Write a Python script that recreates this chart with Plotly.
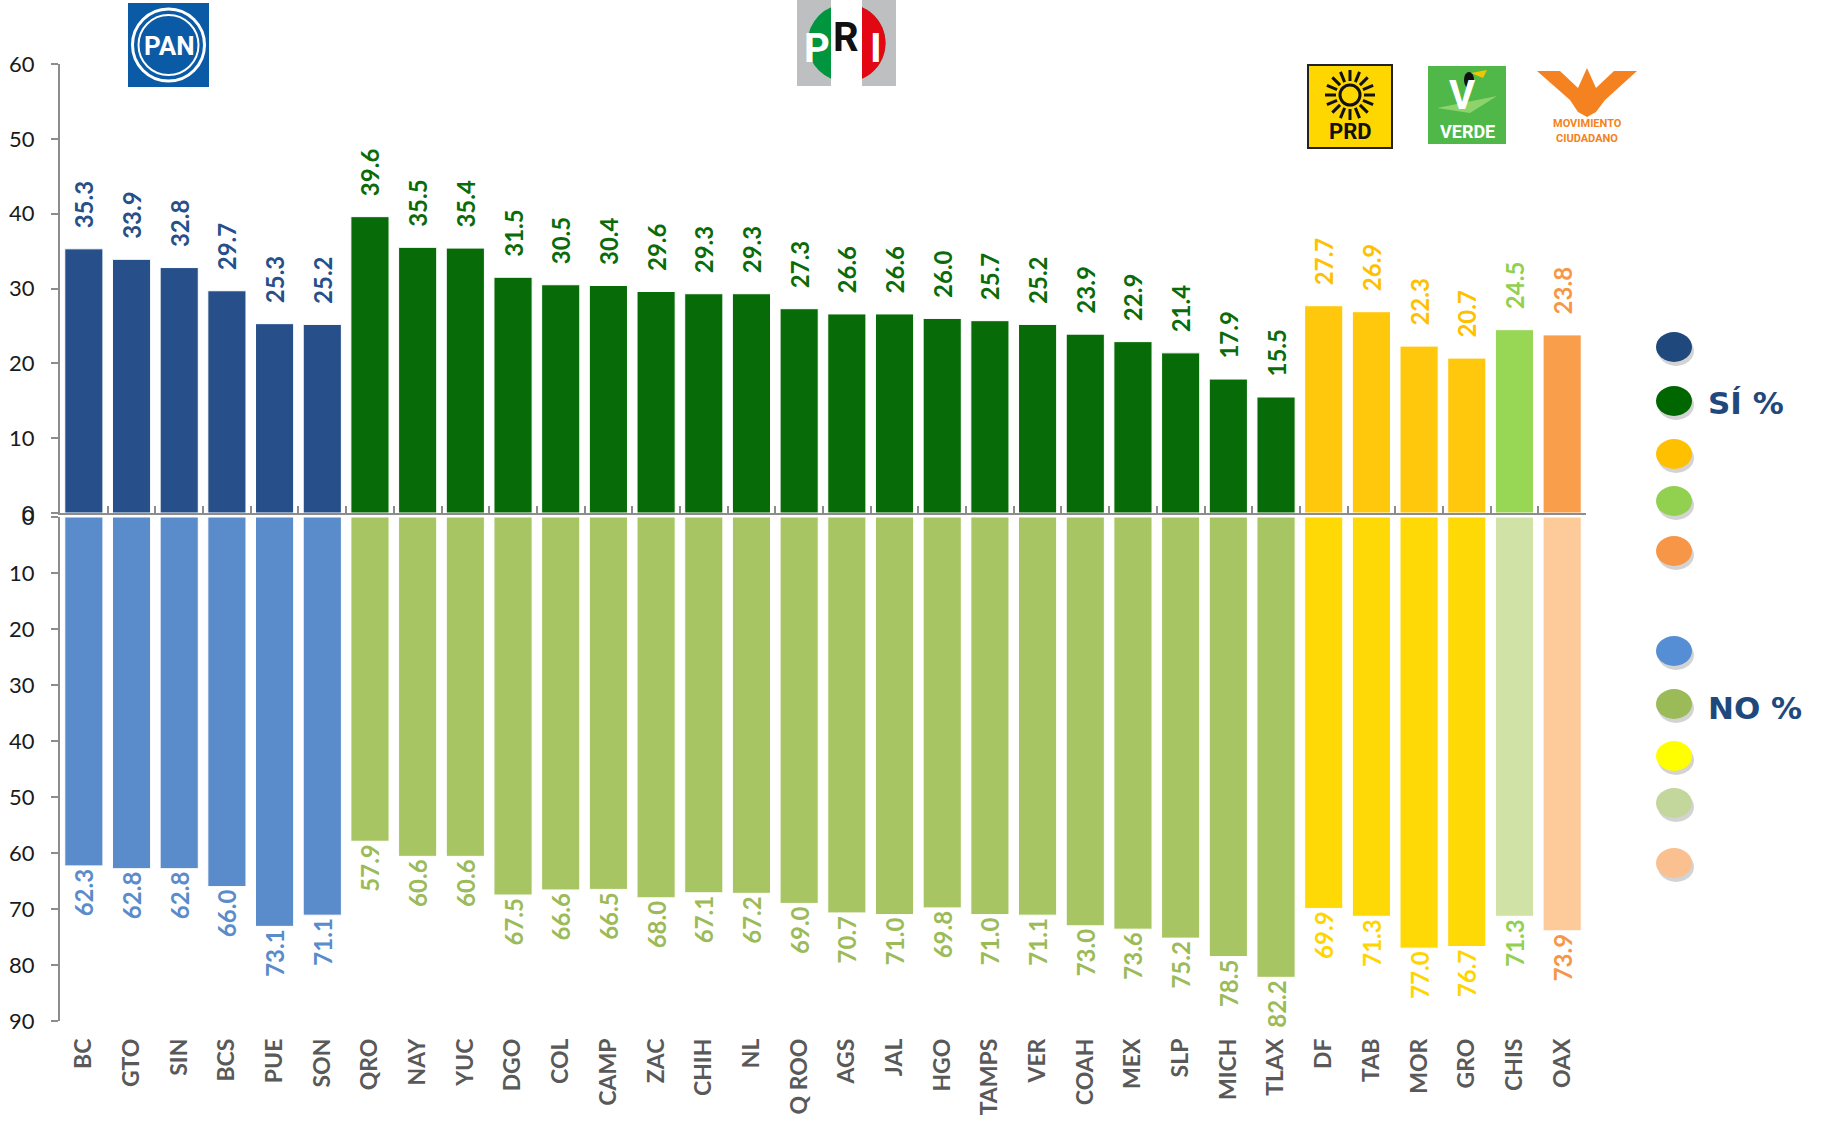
import math
import plotly.graph_objects as go
from plotly.subplots import make_subplots

# ---------------- data ----------------
states = ["BC", "GTO", "SIN", "BCS", "PUE", "SON", "QRO", "NAY", "YUC", "DGO", "COL", "CAMP",
          "ZAC", "CHIH", "NL", "Q ROO", "AGS", "JAL", "HGO", "TAMPS", "VER", "COAH", "MEX", "SLP",
          "MICH", "TLAX", "DF", "TAB", "MOR", "GRO", "CHIS", "OAX"]
party = ["PAN", "PAN", "PAN", "PAN", "PAN", "PAN",
         "PRI", "PRI", "PRI", "PRI", "PRI", "PRI", "PRI", "PRI", "PRI", "PRI",
         "PRI", "PRI", "PRI", "PRI", "PRI", "PRI", "PRI", "PRI", "PRI", "PRI",
         "PRD", "PRD", "PRD", "PRD", "VERDE", "MC"]
si_pct = [35.3, 33.9, 32.8, 29.7, 25.3, 25.2, 39.6, 35.5, 35.4, 31.5, 30.5, 30.4,
          29.6, 29.3, 29.3, 27.3, 26.6, 26.6, 26.0, 25.7, 25.2, 23.9, 22.9, 21.4,
          17.9, 15.5, 27.7, 26.9, 22.3, 20.7, 24.5, 23.8]
no_pct = [62.3, 62.8, 62.8, 66.0, 73.1, 71.1, 57.9, 60.6, 60.6, 67.5, 66.6, 66.5,
          68.0, 67.1, 67.2, 69.0, 70.7, 71.0, 69.8, 71.0, 71.1, 73.0, 73.6, 75.2,
          78.5, 82.2, 69.9, 71.3, 77.0, 76.7, 71.3, 73.9]
si_ticks = [0, 10, 20, 30, 40, 50, 60]
no_ticks = [0, 10, 20, 30, 40, 50, 60, 70, 80, 90]

# ---------------- styles ----------------
si_bar = {"PAN": "#27508A", "PRI": "#076C07", "PRD": "#FFC80C", "VERDE": "#98D656", "MC": "#F99E4B"}
no_bar = {"PAN": "#5A8BCB", "PRI": "#A8C564", "PRD": "#FFD906", "VERDE": "#D1E2A7", "MC": "#FDCB9A"}
si_txt = {"PAN": "#27508A", "PRI": "#0A6B0A", "PRD": "#FFC000", "VERDE": "#92D050", "MC": "#F79646"}
no_txt = {"PAN": "#5A8BCB", "PRI": "#9BBB59", "PRD": "#FFD500", "VERDE": "#92D050", "MC": "#F79646"}

W, H = 1822, 1121
L, R, T, B = 60, 1586, 64, 1021  # plot area in pixels
TOP0, BOT0 = 513, 517            # pixel rows of the two zero lines
AX = "#8C8C8C"
FONT = "Lato"


def px(x):
    return (x - L) / (R - L)


def py(y):
    return (B - y) / (B - T)


fig = make_subplots(rows=2, cols=1, shared_xaxes=True, vertical_spacing=0)

lab = "\u00a0\u00a0\u00a0%{y:.1f}"
fig.add_trace(go.Bar(
    x=states, y=si_pct,
    marker=dict(color=[si_bar[p] for p in party], line=dict(color="white", width=1)),
    texttemplate=lab, textposition="outside", textangle=-90,
    textfont=dict(family=FONT, size=24, color=[si_txt[p] for p in party], weight="bold"),
    constraintext="none", cliponaxis=False, showlegend=False,
), row=1, col=1)

fig.add_trace(go.Bar(
    x=states, y=no_pct,
    marker=dict(color=[no_bar[p] for p in party], line=dict(color="white", width=1)),
    texttemplate=lab, textposition="outside", textangle=-90,
    textfont=dict(family=FONT, size=24, color=[no_txt[p] for p in party], weight="bold"),
    constraintext="none", cliponaxis=False, showlegend=False,
), row=2, col=1)

tickfont = dict(family=FONT, size=22, color="#1A1A1A")
fig.update_layout(
    width=W, height=H,
    margin=dict(l=L, r=W - R, t=T, b=H - B),
    paper_bgcolor="white", plot_bgcolor="white",
    bargap=0.2,
    xaxis=dict(showline=True, linecolor=AX, linewidth=2, ticks="inside", tickson="boundaries",
               ticklen=7, tickcolor=AX, tickwidth=2, showticklabels=False, showgrid=False,
               automargin=False),
    xaxis2=dict(showline=False, ticks="", tickangle=-90, showgrid=False, automargin=False,
                ticklabelstandoff=12,
                tickfont=dict(family=FONT, size=23, color="#595959", weight="bold")),
    yaxis=dict(domain=[py(TOP0), 1], range=[0, 60], tickvals=si_ticks, showline=True,
               linecolor=AX, linewidth=2, ticks="outside", ticklen=7, tickcolor=AX, tickwidth=2,
               showgrid=False, zeroline=False, tickfont=tickfont, automargin=False,
               ticklabelstandoff=12),
    yaxis2=dict(domain=[0, py(BOT0)], range=[90, 0], tickvals=no_ticks, showline=True,
                linecolor=AX, linewidth=2, ticks="outside", ticklen=7, tickcolor=AX, tickwidth=2,
                showgrid=False, zeroline=False, tickfont=tickfont, automargin=False,
                ticklabelstandoff=12),
)

shapes = []
annots = []


def rect(x0, y0, x1, y1, fill, line=None, lw=0):
    shapes.append(dict(type="rect", xref="paper", yref="paper", x0=px(x0), x1=px(x1),
                       y0=py(y1), y1=py(y0), fillcolor=fill,
                       line=dict(color=line or fill, width=lw), layer="above"))


def circle(cx, cy, rx, ry, fill=None, line=None, lw=0):
    shapes.append(dict(type="circle", xref="paper", yref="paper", x0=px(cx - rx), x1=px(cx + rx),
                       y0=py(cy + ry), y1=py(cy - ry), fillcolor=fill or "rgba(0,0,0,0)",
                       line=dict(color=line or "rgba(0,0,0,0)", width=lw), layer="above"))


def poly(pts, fill):
    path = "M " + " L ".join(f"{px(x):.5f},{py(y):.5f}" for x, y in pts) + " Z"
    shapes.append(dict(type="path", xref="paper", yref="paper", path=path, fillcolor=fill,
                       line=dict(color=fill, width=0), layer="above"))


def line(x0, y0, x1, y1, color, w):
    shapes.append(dict(type="line", xref="paper", yref="paper", x0=px(x0), x1=px(x1),
                       y0=py(y0), y1=py(y1), line=dict(color=color, width=w), layer="above"))


def text(x, y, s, size, color, family=FONT, bold=True, anchor="center"):
    annots.append(dict(x=px(x), y=py(y), xref="paper", yref="paper", text=s, showarrow=False,
                       xanchor=anchor, yanchor="middle",
                       font=dict(family=family, size=size, color=color,
                                 weight="bold" if bold else "normal")))


# ---- legend dots ----
dot_y = [347, 401, 454, 501, 551, 651, 704, 756, 803, 863]
dot_c = ["#1F497D", "#006600", "#FFC000", "#92D050", "#F79646",
         "#558ED5", "#9BBB59", "#FFFF00", "#C3D69B", "#FAC090"]
for yy, cc in zip(dot_y, dot_c):
    circle(1676, yy + 4, 18, 15, fill="rgba(110,110,110,0.3)")
    circle(1674, yy, 18, 15, fill=cc)
text(1706, 403, "SÍ %", 31, "#1F497D", family="DejaVu Sans", anchor="left")
text(1706, 708, "NO %", 31, "#1F497D", family="DejaVu Sans", anchor="left")

# ---- PAN logo ----
rect(128, 3, 209, 87, "#0B5AA6")
circle(168.5, 45, 36, 36, line="white", lw=3)
circle(168.5, 45, 30, 30, line="white", lw=2)
text(168.5, 46, "PAN", 26, "white", family="Roboto")

# ---- PRI logo ----
rect(797, 0, 896, 86, "#BEBFC1")
circle(846.5, 43, 39, 39, fill="#009640")
half = [(846.5 + 39 * math.cos(a), 43 + 39 * math.sin(a))
        for a in [(-90 + i * 7.5) * math.pi / 180 for i in range(25)]]
poly(half, "#E30613")
rect(831, 0, 862, 86, "white")
text(817, 48, "P", 40, "white", family="Roboto")
text(846.5, 38, "R", 40, "#111111", family="Roboto")
text(876, 48, "I", 40, "white", family="Roboto")

# ---- PRD logo ----
rect(1308, 65, 1392, 148, "#FFD700", line="#222222", lw=2)
circle(1350, 95, 10, 10, line="#111111", lw=3)
for i in range(16):
    a = i * math.pi / 8
    line(1350 + 14 * math.cos(a), 95 + 14 * math.sin(a),
         1350 + 25 * math.cos(a), 95 + 25 * math.sin(a), "#111111", 3)
text(1350, 131, "PRD", 22, "#111111", family="Roboto")

# ---- VERDE logo ----
rect(1428, 66, 1506, 144, "#50B848")
poly([(1437, 108), (1497, 96), (1470, 113)], "#8DD36B")
text(1462, 96, "V", 40, "white", family="Roboto")
circle(1469, 80, 5, 8, fill="#111111")
poly([(1471, 73), (1487, 70), (1483, 78)], "#F2C500")
text(1467, 131, "VERDE", 18, "white", family="Roboto")

# ---- Movimiento Ciudadano logo ----
poly([(1537, 71), (1560, 71), (1578, 88), (1587, 68), (1596, 88), (1614, 71), (1637, 71),
      (1605, 100), (1596, 112), (1587, 117), (1578, 112), (1570, 100)], "#F58220")
text(1587, 123, "MOVIMIENTO", 11, "#F58220", family="Roboto")
text(1587, 138, "CIUDADANO", 11, "#F58220", family="Roboto")

fig.update_layout(shapes=shapes, annotations=annots)
fig.write_html(
    "out.html",
    config={"displayModeBar": False},
    post_script="document.body.style.margin='0';document.body.style.overflow='hidden';",
)
